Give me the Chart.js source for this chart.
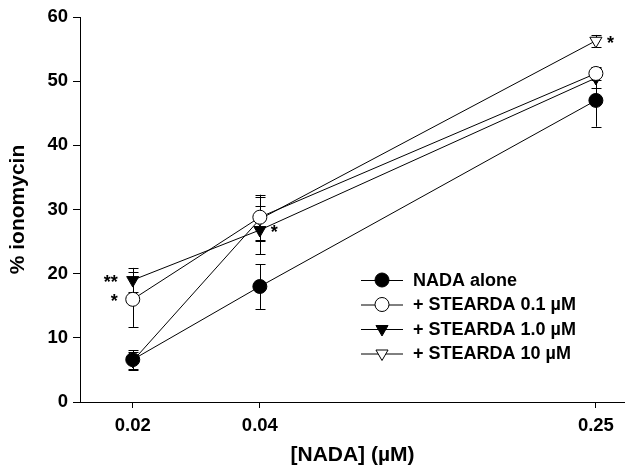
<!DOCTYPE html>
<html>
<head>
<meta charset="utf-8">
<script src="https://cdn.jsdelivr.net/npm/chart.js@4/dist/chart.umd.min.js"></script>
<style>
  html, body { margin: 0; padding: 0; background: #fff; }
  #wrap { width: 625px; height: 468px; }
</style>
</head>
<body>
<div id="wrap"><canvas id="nadaChart" width="625" height="468"></canvas></div>
<script>
// NADA concentrations (uM)
const concentrations = [0.02, 0.04, 0.25];

// mean % ionomycin per series
const nadaAlone = [6.6, 18.0, 47.0];
const stearda01 = [16.0, 28.8, 51.2];
const stearda1 = [19.0, 26.8, 50.5];
const stearda10 = [6.4, 28.5, 56.3];

// error bars (+/-)
const nadaAloneErr = [1.5, 3.5, 4.1];
const stearda01Err = [4.3, 3.5, 1.0];
const stearda1Err = [1.9, 3.8, 1.5];
const stearda10Err = [1.4, 3.4, 0.9];

const seriesLabels = ['NADA alone', '+ STEARDA 0.1 \u00b5M', '+ STEARDA 1.0 \u00b5M', '+ STEARDA 10 \u00b5M'];
const yTicks = [0, 10, 20, 30, 40, 50, 60];

// significance marks: [series index, point index, text, side]
const marks = [
    [2, 0, '**', 'left'],
    [1, 0, '*', 'left'],
    [2, 1, '*', 'right'],
    [3, 2, '*', 'right']
];

const FONT = '"Liberation Sans", Arial, sans-serif';

function toPoints(values) {
    return concentrations.map((c, i) => ({ x: c, y: values[i] }));
}

const errors = [nadaAloneErr, stearda01Err, stearda1Err, stearda10Err];

// draw error bars under the markers
const errorBars = {
    id: 'errorBars',
    beforeDatasetsDraw(chart) {
        const ctx = chart.ctx;
        const xs = chart.scales.x, ys = chart.scales.y;
        ctx.save();
        ctx.strokeStyle = '#000';
        ctx.lineWidth = 1;
        chart.data.datasets.forEach((ds, di) => {
            ds.data.forEach((p, i) => {
                const e = errors[di][i];
                const px = Math.round(xs.getPixelForValue(p.x)) + 0.5;
                const top = ys.getPixelForValue(p.y + e);
                const bot = ys.getPixelForValue(p.y - e);
                ctx.beginPath();
                ctx.moveTo(px, top);
                ctx.lineTo(px, bot);
                ctx.moveTo(px - 5, Math.round(top) + 0.5);
                ctx.lineTo(px + 5, Math.round(top) + 0.5);
                ctx.moveTo(px - 5, Math.round(bot) + 0.5);
                ctx.lineTo(px + 5, Math.round(bot) + 0.5);
                ctx.stroke();
            });
        });
        ctx.restore();
    }
};

// legend inside the plot + asterisks
const extras = {
    id: 'extras',
    afterDatasetsDraw(chart) {
        const ctx = chart.ctx;
        const xs = chart.scales.x, ys = chart.scales.y;
        ctx.save();
        ctx.fillStyle = '#000';
        ctx.font = 'bold 18px ' + FONT;
        ctx.textBaseline = 'middle';

        marks.forEach(m => {
            const ds = chart.data.datasets[m[0]];
            const p = ds.data[m[1]];
            const px = xs.getPixelForValue(p.x);
            const py = ys.getPixelForValue(p.y);
            if (m[3] === 'left') {
                ctx.textAlign = 'right';
                ctx.fillText(m[2], px - 15, py + 3);
            } else {
                ctx.textAlign = 'left';
                ctx.fillText(m[2], px + 11, py + 3);
            }
        });

        const x0 = 361, x1 = 403, tx = 413;
        let y = 280;
        ctx.textAlign = 'left';
        chart.data.datasets.forEach(ds => {
            ctx.strokeStyle = '#000';
            ctx.lineWidth = 1;
            ctx.beginPath();
            ctx.moveTo(x0, y + 0.5);
            ctx.lineTo(x1, y + 0.5);
            ctx.stroke();
            ctx.fillStyle = ds.pointBackgroundColor;
            ctx.strokeStyle = '#000';
            Chart.helpers.drawPoint(ctx, {
                pointStyle: ds.pointStyle,
                rotation: ds.pointRotation,
                radius: ds.pointRadius,
                borderWidth: 1
            }, (x0 + x1) / 2, y);
            ctx.fillStyle = '#000';
            ctx.fillText(ds.label, tx, y + 1);
            y += 24.5;
        });
        ctx.restore();
    }
};

function series(label, values, style, fill, rot) {
    return {
        label: label,
        data: toPoints(values),
        borderColor: '#000',
        borderWidth: 1,
        tension: 0,
        clip: false,
        pointStyle: style,
        pointRotation: rot,
        pointRadius: 7,
        pointHoverRadius: 7,
        pointBackgroundColor: fill,
        pointBorderColor: '#000',
        pointBorderWidth: 1
    };
}

new Chart(document.getElementById('nadaChart').getContext('2d'), {
    type: 'line',
    data: {
        datasets: [
            series(seriesLabels[0], nadaAlone, 'circle', '#000', 0),
            series(seriesLabels[1], stearda01, 'circle', '#fff', 0),
            series(seriesLabels[2], stearda1, 'triangle', '#000', 180),
            series(seriesLabels[3], stearda10, 'triangle', '#fff', 180)
        ]
    },
    options: {
        responsive: false,
        animation: false,
        layout: { autoPadding: false, padding: { top: 17, right: 0, left: 0, bottom: 0 } },
        plugins: {
            legend: { display: false },
            title: { display: false },
            tooltip: { enabled: false }
        },
        scales: {
            x: {
                type: 'logarithmic',
                min: 0.015,
                max: 0.293,
                afterBuildTicks: s => { s.ticks = concentrations.map(v => ({ value: v })); },
                afterFit: s => { s.height = 66; s.paddingRight = 0; s.paddingLeft = 0; },
                grid: { drawOnChartArea: false, drawTicks: true, tickLength: 6, color: '#000' },
                border: { display: true, color: '#000', width: 1 },
                ticks: {
                    color: '#000',
                    font: { family: FONT, size: 18.5, weight: 'bold' },
                    padding: 7,
                    maxRotation: 0,
                    callback: v => String(v)
                },
                title: {
                    display: true,
                    text: '[NADA] (\u00b5M)',
                    color: '#000',
                    font: { family: FONT, size: 21, weight: 'bold' },
                    padding: { top: 4, bottom: 0 }
                }
            },
            y: {
                min: 0,
                max: 60,
                afterBuildTicks: s => { s.ticks = yTicks.map(v => ({ value: v })); },
                afterFit: s => { s.width = 80; },
                grid: { drawOnChartArea: false, drawTicks: true, tickLength: 7, color: '#000' },
                border: { display: true, color: '#000', width: 1 },
                ticks: {
                    color: '#000',
                    font: { family: FONT, size: 18.5, weight: 'bold' },
                    padding: 5
                },
                title: {
                    display: true,
                    text: '% ionomycin',
                    color: '#000',
                    font: { family: FONT, size: 21, weight: 'bold' },
                    padding: { top: 6, bottom: 0 }
                }
            }
        }
    },
    plugins: [errorBars, extras]
});
</script>
</body>
</html>
